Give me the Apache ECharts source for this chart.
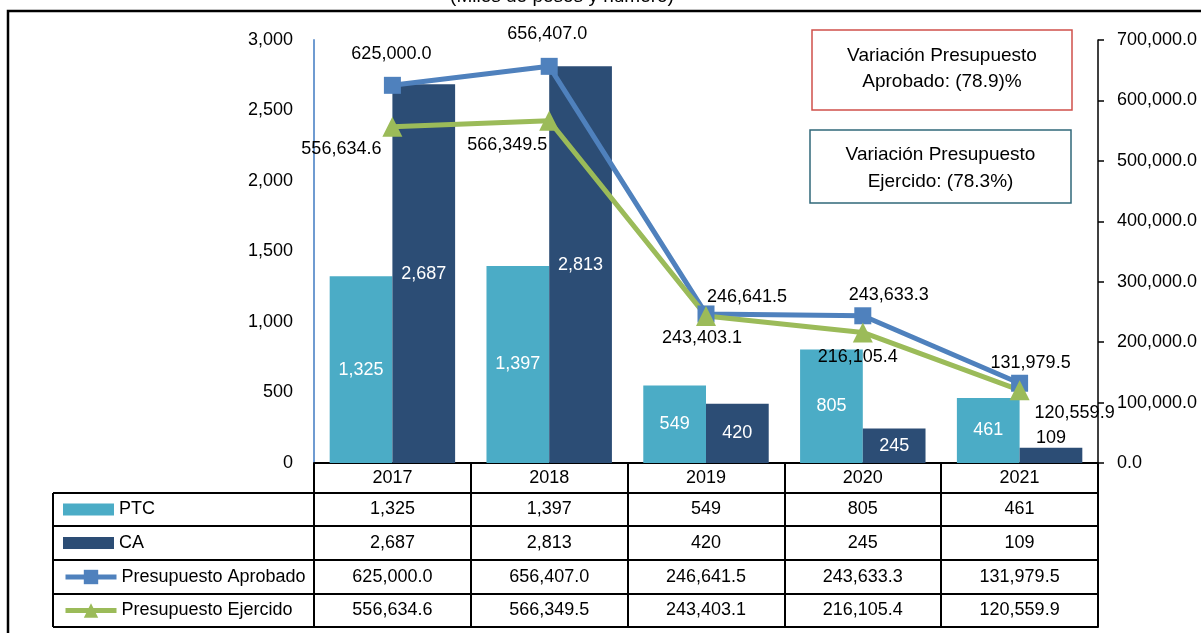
<!DOCTYPE html>
<html>
<head>
<meta charset="utf-8">
<script src="https://cdn.jsdelivr.net/npm/echarts@6/dist/echarts.min.js"></script>
<style>
html, body { margin: 0; padding: 0; background: #fff; }
#chart { width: 1201px; height: 633px; }
</style>
</head>
<body>
<div id="chart"></div>
<script>
// datos del grafico
const years = ['2017', '2018', '2019', '2020', '2021'];
const ptc = [1325, 1397, 549, 805, 461];
const ca = [2687, 2813, 420, 245, 109];
const aprobado = [625000.0, 656407.0, 246641.5, 243633.3, 131979.5];
const ejercido = [556634.6, 566349.5, 243403.1, 216105.4, 120559.9];

// desplazamiento de las etiquetas de las lineas (px)
const offAprobado = [[-1, -31], [-2, -32], [41, -17], [26, -21], [11, -20]];
const offEjercido = [[-51, 22], [-42, 24], [-4, 22], [-5, 25], [55, 23]];

// filas de la tabla (y de cada linea horizontal)
const rowTop = [463, 493, 526, 560, 594, 627];

const FONT = "'Liberation Sans', Arial, sans-serif";
const fmtInt = v => Number(v).toLocaleString('en-US');
const fmt1 = v => Number(v).toLocaleString('en-US', { minimumFractionDigits: 1, maximumFractionDigits: 1 });

let chart = echarts.init(document.getElementById('chart'));

// un eje categoria por fila de la tabla
function tableAxis(i, labels) {
    const h = rowTop[i + 1] - rowTop[i];
    return {
        type: 'category',
        data: labels,
        position: 'bottom',
        offset: rowTop[i] - rowTop[0],
        boundaryGap: true,
        axisLine: { show: true, onZero: false, lineStyle: { color: '#000', width: 2 } },
        axisTick: { show: true, length: h, lineStyle: { color: '#000', width: 2 } },
        axisLabel: { interval: 0, margin: h / 2, verticalAlign: 'middle', color: '#000', fontSize: 18, fontFamily: FONT },
        splitLine: { show: false }
    };
}

const lastRow = {
    type: 'category', data: years, position: 'bottom', offset: rowTop[5] - rowTop[0],
    axisLine: { show: true, onZero: false, lineStyle: { color: '#000', width: 2 } },
    axisTick: { show: false }, axisLabel: { show: false }, splitLine: { show: false }
};

// lineas de la columna de leyenda
const legendLines = rowTop.slice(1).map(y => ({
    type: 'line', shape: { x1: 53, y1: y, x2: 314, y2: y }, style: { stroke: '#000', lineWidth: 2 }
}));
legendLines.push({ type: 'line', shape: { x1: 53, y1: rowTop[1], x2: 53, y2: rowTop[5] }, style: { stroke: '#000', lineWidth: 2 } });

const legendText = { fontSize: 18, color: '#000', lineHeight: 20, fontFamily: FONT };

chart.setOption({
    animation: false,
    textStyle: { fontFamily: FONT },
    grid: { left: 314, right: 103, top: 40, bottom: 170 },
    legend: [
        {
            orient: 'vertical', left: 63, top: 499.5, padding: 0,
            itemWidth: 51, itemHeight: 12, itemGap: 13.5,
            textStyle: legendText,
            data: [{ name: 'PTC', icon: 'rect' }, { name: 'CA', icon: 'rect' }]
        },
        {
            orient: 'vertical', left: 63, top: 567, padding: 0,
            itemWidth: 51, itemHeight: 18, itemGap: 13.5,
            lineStyle: { width: 5 },
            textStyle: legendText,
            data: ['Presupuesto Aprobado', 'Presupuesto Ejercido']
        }
    ],
    xAxis: [
        tableAxis(0, years),
        tableAxis(1, ptc.map(fmtInt)),
        tableAxis(2, ca.map(fmtInt)),
        tableAxis(3, aprobado.map(fmt1)),
        tableAxis(4, ejercido.map(fmt1)),
        lastRow
    ],
    yAxis: [
        {
            type: 'value', position: 'left', min: 0, max: 3000, interval: 500,
            axisLine: { show: true, lineStyle: { color: '#6f9bd1', width: 2 } },
            axisTick: { show: false },
            axisLabel: { margin: 21, color: '#000', fontSize: 18, formatter: fmtInt },
            splitLine: { show: false }
        },
        {
            type: 'value', position: 'right', min: 0, max: 700000, interval: 100000,
            axisLine: { show: true, lineStyle: { color: '#000', width: 1.5 } },
            axisTick: { show: true, length: 6, lineStyle: { color: '#000', width: 1.5 } },
            axisLabel: { margin: 19, color: '#000', fontSize: 18, formatter: fmt1 },
            splitLine: { show: false }
        }
    ],
    series: [
        {
            name: 'PTC', type: 'bar', barGap: '0%', barCategoryGap: '20%',
            itemStyle: { color: '#4BACC6' },
            label: { show: true, position: 'inside', color: '#fff', fontSize: 18, formatter: p => fmtInt(p.value) },
            data: ptc
        },
        {
            name: 'CA', type: 'bar', barGap: '0%', barCategoryGap: '20%',
            itemStyle: { color: '#2C4D75' },
            label: { show: true, position: 'inside', color: '#fff', fontSize: 18, formatter: p => fmtInt(p.value) },
            // barras pequenas: etiqueta fuera
            data: ca.map(v => v < 150 ? { value: v, label: { position: 'top', distance: 1, color: '#000' } } : v)
        },
        {
            name: 'Presupuesto Aprobado', type: 'line', yAxisIndex: 1,
            color: '#4F81BD',
            lineStyle: { width: 5, color: '#4F81BD' },
            symbol: 'rect', symbolSize: 17,
            itemStyle: { color: '#4F81BD' },
            label: { show: true, position: 'inside', color: '#000', fontSize: 18, formatter: p => fmt1(p.value) },
            data: aprobado.map((v, i) => ({ value: v, label: { offset: offAprobado[i] } }))
        },
        {
            name: 'Presupuesto Ejercido', type: 'line', yAxisIndex: 1,
            color: '#9BBB59',
            lineStyle: { width: 5, color: '#9BBB59' },
            symbol: 'triangle', symbolSize: 20,
            itemStyle: { color: '#9BBB59' },
            label: { show: true, position: 'inside', color: '#000', fontSize: 18, formatter: p => fmt1(p.value) },
            data: ejercido.map((v, i) => ({ value: v, label: { offset: offEjercido[i] } }))
        }
    ],
    graphic: [
        // marco
        { type: 'rect', shape: { x: 8, y: 11, width: 1220, height: 650 }, style: { fill: 'none', stroke: '#000', lineWidth: 2.5 }, silent: true },
        // titulo (cortado arriba)
        { type: 'text', style: { text: '(Miles de pesos y número)', x: 562, y: -3, textAlign: 'center', textVerticalAlign: 'middle', font: '19px ' + FONT, fill: '#000' } },
        // recuadros de variacion
        { type: 'rect', shape: { x: 812, y: 30, width: 260, height: 80 }, style: { fill: '#fff', stroke: '#d0504b', lineWidth: 1.5 } },
        { type: 'text', style: { text: 'Variación Presupuesto\nAprobado: (78.9)%', x: 942, y: 69, textAlign: 'center', textVerticalAlign: 'middle', lineHeight: 26, font: '19px ' + FONT, fill: '#000' } },
        { type: 'rect', shape: { x: 810, y: 130, width: 261, height: 73 }, style: { fill: '#fff', stroke: '#31687a', lineWidth: 1.5 } },
        { type: 'text', style: { text: 'Variación Presupuesto\nEjercido: (78.3%)', x: 940.5, y: 168.5, textAlign: 'center', textVerticalAlign: 'middle', lineHeight: 27, font: '19px ' + FONT, fill: '#000' } }
    ].concat(legendLines)
});
</script>
</body>
</html>
